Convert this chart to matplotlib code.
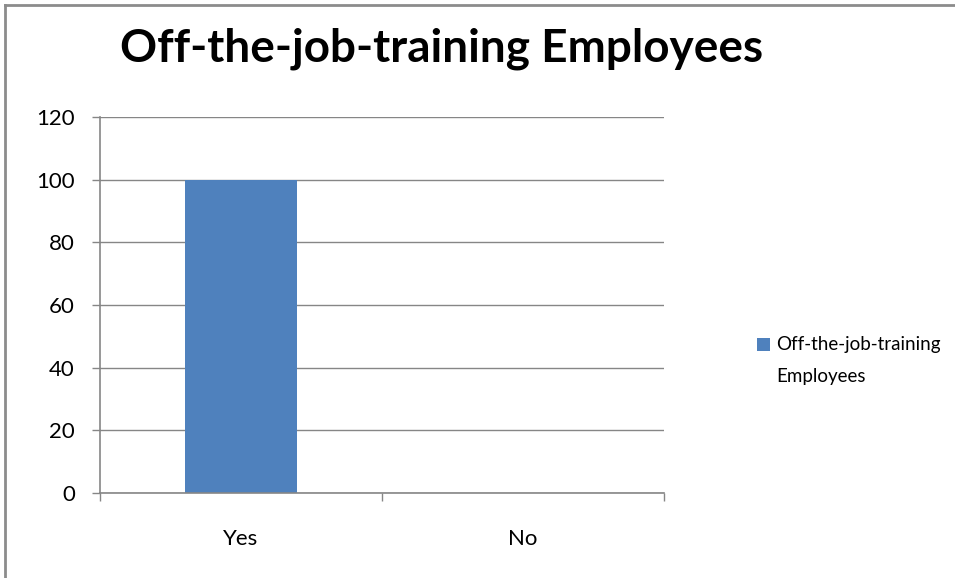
import matplotlib
matplotlib.use("Agg")
import matplotlib.pyplot as plt
import numpy as np
from matplotlib.patches import Rectangle
from matplotlib.legend_handler import HandlerPatch

categories = ["Yes", "No"]
values = [100, 0]
series_name = "Off-the-job-training\nEmployees"
title = "Off-the-job-training Employees"
yticks = [0, 20, 40, 60, 80, 100, 120]

plt.rcParams['font.family'] = ['Lato', 'DejaVu Sans']

W, H = 955, 578
fig = plt.figure(figsize=(W/100, H/100), dpi=100)

# outer border (left and top visible)
fig.add_artist(plt.Line2D([5/W, 5/W], [0, 1 - 5/H], color='#8c8c8c', lw=2, transform=fig.transFigure))
fig.add_artist(plt.Line2D([5/W, 1], [1 - 5/H, 1 - 5/H], color='#8c8c8c', lw=2, transform=fig.transFigure))

x0, x1 = 100, 664
y0, y1 = 493, 117
ax = fig.add_axes([x0/W, 1 - y0/H, (x1-x0)/W, (y0-y1)/H])

x = np.arange(len(categories))
bars = ax.bar(x, values, width=0.4, color='#4f81bd', label=series_name, zorder=3)
ax.set_xlim(-0.5, len(categories) - 0.5)
ax.set_ylim(0, 120)
ax.set_yticks(yticks)
ax.set_yticklabels([str(v) for v in yticks], fontsize=16)
ax.yaxis.grid(True, color='#868686', lw=1, zorder=0)
ax.set_xticks(x)
ax.set_xticklabels(categories, fontsize=16)
ax.tick_params(axis='x', length=0, pad=26)
ax.set_xticks(np.arange(-0.5, len(categories)), minor=True)
ax.tick_params(axis='x', which='minor', length=6, color='#868686', width=1)
ax.tick_params(axis='y', length=6, color='#868686', width=1, pad=12)
for s in ['top', 'right']:
    ax.spines[s].set_visible(False)
for s in ['left', 'bottom']:
    ax.spines[s].set_color('#868686')
    ax.spines[s].set_linewidth(1.2)
ax.spines['bottom'].set_zorder(4)

fig.text(442/W, 1 - 49/H, title, ha='center', va='center', fontsize=33, fontweight='bold')

LEG_FS = 13.5
LSP = 2.1

def top_aligned_patch(legend, orig_handle, xdescent, ydescent, width, height, fontsize):
    shift = 11.9  # points: half a legend line step, so the key sits by the first line
    return Rectangle((-xdescent, -ydescent + shift), width, height)

handle = bars.patches[0]
leg = fig.legend(handles=[handle], labels=[series_name],
                 loc='upper left', bbox_to_anchor=(757/W, 1 - 336/H), frameon=False,
                 fontsize=LEG_FS, handlelength=0.7, handleheight=0.7, handletextpad=0.3,
                 borderpad=0, borderaxespad=0,
                 handler_map={Rectangle: HandlerPatch(patch_func=top_aligned_patch)})
for t in leg.get_texts():
    t.set_linespacing(LSP)

fig.savefig("out.png", dpi=100)
